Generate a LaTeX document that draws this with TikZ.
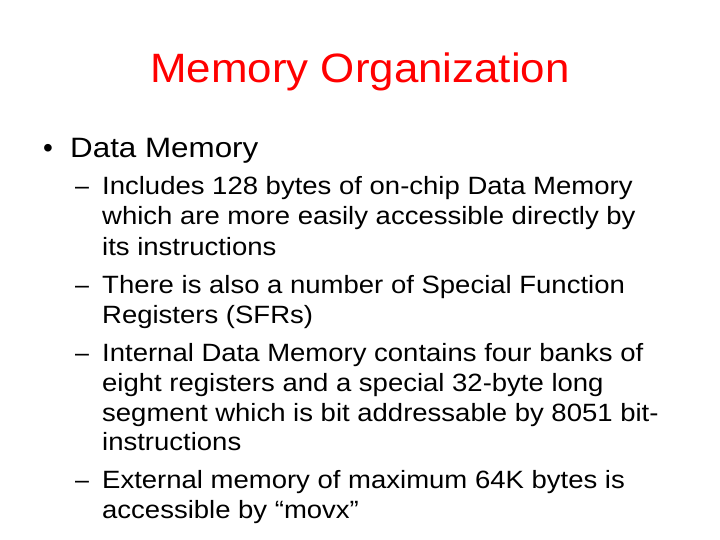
\documentclass[tikz,border=0pt]{standalone}
\usepackage{fontspec}
\setmainfont{Liberation Sans}
\newcommand{\wideln}[1]{\scalebox{1.1}[1]{#1}}
\begin{document}
\begin{tikzpicture}[x=1pt,y=-1pt,
  ln/.style={anchor=base west,inner sep=0pt,font=\fontsize{25}{28}\selectfont}]
\useasboundingbox[fill=white] (0,0) rectangle (720,540);
\node[anchor=base,inner sep=0pt,text=red,font=\fontsize{41}{44}\selectfont] (title) at (360,83) {\scalebox{1.07}[1]{Memory Organization}};
\node[anchor=base west,inner sep=0pt,font=\fontsize{28}{32}\selectfont] (b1) at (43,158) {•};
\node[anchor=base west,inner sep=0pt,font=\fontsize{28}{32}\selectfont] (b1t) at (70,158) {\scalebox{1.12}[1]{Data Memory}};
\node[ln] (d1) at (75,195) {–};
\node[ln] (l1) at (102,195) {\wideln{Includes 128 bytes of on-chip Data Memory}};
\node[ln] (l2) at (102,225) {\wideln{which are more easily accessible directly by}};
\node[ln] (l3) at (102,255) {\wideln{its instructions}};
\node[ln] (d2) at (75,293) {–};
\node[ln] (l4) at (102,293) {\wideln{There is also a number of Special Function}};
\node[ln] (l5) at (102,323) {\wideln{Registers (SFRs)}};
\node[ln] (d3) at (75,361) {–};
\node[ln] (l6) at (102,361) {\wideln{Internal Data Memory contains four banks of}};
\node[ln] (l7) at (102,391) {\wideln{eight registers and a special 32-byte long}};
\node[ln] (l8) at (102,421) {\wideln{segment which is bit addressable by 8051 bit-}};
\node[ln] (l9) at (102,450) {\wideln{instructions}};
\node[ln] (d4) at (75,488) {–};
\node[ln] (l10) at (102,488) {\wideln{External memory of maximum 64K bytes is}};
\node[ln] (l11) at (102,518) {\wideln{accessible by “movx”}};
\end{tikzpicture}
\end{document}
